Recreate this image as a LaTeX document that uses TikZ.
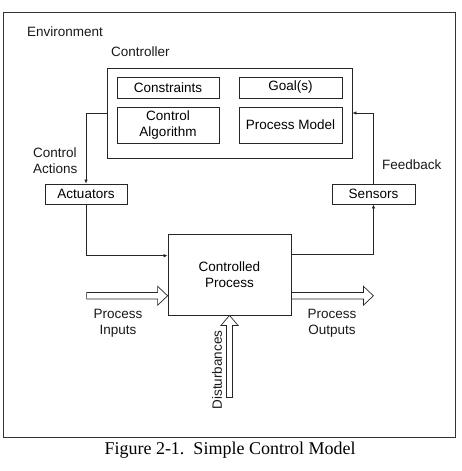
\documentclass[tikz,border=0pt]{standalone}
\usepackage{fontspec}
\setmainfont{Liberation Sans}
\newfontfamily\capfont{Liberation Serif}
\usetikzlibrary{calc,arrows.meta}
\tikzset{
  box/.style={draw=black!85, line width=0.8pt, inner sep=0pt, font=\fontsize{13.5}{16}\selectfont, align=center},
  lbl/.style={inner sep=0pt, font=\fontsize{13.5}{16}\selectfont, text=black!90},
  conn/.style={draw=black!85, line width=0.7pt, -{Latex[length=4pt,width=3.5pt]}},
  hollow/.style={draw=black!85, line width=0.7pt, fill=white, line join=miter}
}
\begin{document}
\begin{tikzpicture}[x=1pt,y=-1pt]
\useasboundingbox (0,0) rectangle (462,471);
\draw[line width=0.9pt, black!80] (3,12) rectangle (455,437);
\node[lbl, anchor=west] (env) at (27,32) {Environment};
\node[lbl, anchor=west] (ctrllbl) at (111,52) {Controller};
\node[box, minimum width=245, minimum height=90] (ctrl) at (229.5,113) {};
\node[box, minimum width=102, minimum height=21] (cons) at (168,87.5) {Constraints};
\node[box, minimum width=103, minimum height=21] (goal) at (290.5,87.5) {Goal(s)};
\node[box, minimum width=102, minimum height=36] (alg) at (168,125) {Control\\Algorithm};
\node[box, minimum width=103, minimum height=36] (pm) at (290.5,125) {Process Model};
\node[box, minimum width=82, minimum height=20] (act) at (86,194) {Actuators};
\node[box, minimum width=83, minimum height=20] (sens) at (373.5,194) {Sensors};
\node[box, minimum width=123, minimum height=81] (cp) at (229.5,274.5) {Controlled\\Process};
\node[lbl, anchor=west, align=left] (ca) at (33,161) {Control\\Actions};
\node[lbl, anchor=west] (fb) at (382,165) {Feedback};
\node[lbl, align=center] (pin) at (118,323) {Process\\Inputs};
\node[lbl, align=center] (pout) at (332,323) {Process\\Outputs};
\node[lbl, rotate=90] (dist) at (217,370) {Disturbances};
\node[inner sep=0pt, font=\capfont\fontsize{18}{20}\selectfont] (cap) at (230,450) {Figure 2-1.\ \ Simple Control Model};
% connectors
\draw[conn] (ctrl.west) -| (act.north);
\draw[conn] (sens.north) |- (ctrl.east);
\coordinate (cpin) at ($(cp.north west)!0.27!(cp.south west)$);
\coordinate (cpout) at ($(cp.north east)!0.25!(cp.south east)$);
\draw[conn] (act.south) |- (cpin);
\draw[conn] (cpout) -| (sens.south);
% hollow arrows
\coordinate (ti) at ($(cp.north west)!0.76!(cp.south west)$);
\draw[hollow] ($(ti)+(-81,-3.3)$) -- ($(ti)+(-10,-3.3)$) -- ($(ti)+(-10,-9.5)$) -- (ti) -- ($(ti)+(-10,9.5)$) -- ($(ti)+(-10,3.3)$) -- ($(ti)+(-81,3.3)$) -- cycle;
\coordinate (so) at ($(cp.north east)!0.76!(cp.south east)$);
\draw[hollow] ($(so)+(0,-3.3)$) -- ($(so)+(72,-3.3)$) -- ($(so)+(72,-9.5)$) -- ($(so)+(82,0)$) -- ($(so)+(72,9.5)$) -- ($(so)+(72,3.3)$) -- ($(so)+(0,3.3)$) -- cycle;
\coordinate (td) at (cp.south);
\draw[hollow] ($(td)+(-3,82)$) -- ($(td)+(-3,10)$) -- ($(td)+(-8.5,10)$) -- (td) -- ($(td)+(8.5,10)$) -- ($(td)+(3,10)$) -- ($(td)+(3,82)$) -- cycle;
\end{tikzpicture}
\end{document}
